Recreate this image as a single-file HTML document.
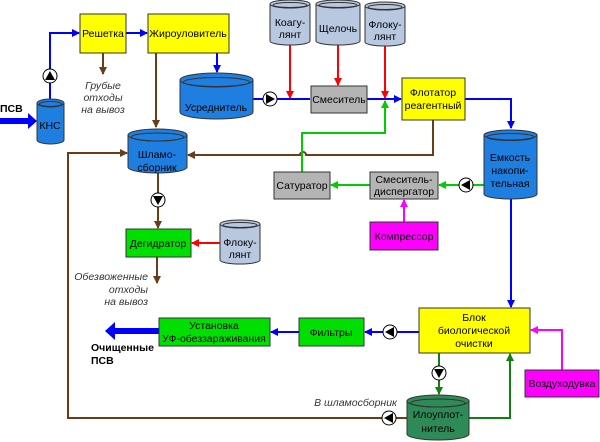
<!DOCTYPE html>
<html><head><meta charset="utf-8"><style>
html,body{margin:0;padding:0;background:#fff}
svg{display:block}
text{font-family:"Liberation Sans",Arial,sans-serif;font-size:10.5px;fill:#000}
.it{font-style:italic;fill:#333}
</style></head><body>
<svg width="600" height="442" viewBox="0 0 600 442" xmlns="http://www.w3.org/2000/svg">
<defs>
<marker id="ab" markerWidth="8" markerHeight="8" refX="7" refY="4" orient="auto" markerUnits="userSpaceOnUse"><path d="M0,0L8,4L0,8z" fill="#0000ff"/></marker>
<marker id="ar" markerWidth="8" markerHeight="8" refX="7" refY="4" orient="auto" markerUnits="userSpaceOnUse"><path d="M0,0L8,4L0,8z" fill="#ff0000"/></marker>
<marker id="ag" markerWidth="8" markerHeight="8" refX="7" refY="4" orient="auto" markerUnits="userSpaceOnUse"><path d="M0,0L8,4L0,8z" fill="#00cc00"/></marker>
<marker id="adg" markerWidth="8" markerHeight="8" refX="7" refY="4" orient="auto" markerUnits="userSpaceOnUse"><path d="M0,0L8,4L0,8z" fill="#108010"/></marker>
<marker id="an" markerWidth="8" markerHeight="8" refX="7" refY="4" orient="auto" markerUnits="userSpaceOnUse"><path d="M0,0L8,4L0,8z" fill="#6b3d17"/></marker>
<marker id="ap" markerWidth="8" markerHeight="8" refX="7" refY="4" orient="auto" markerUnits="userSpaceOnUse"><path d="M0,0L8,4L0,8z" fill="#ff00ff"/></marker>
</defs>
<g fill="none" stroke-width="2">
<!-- blue -->
<path d="M50,99V33H79" stroke="#0000ff" marker-end="url(#ab)"/>
<path d="M126,33H147" stroke="#0000ff" marker-end="url(#ab)"/>
<path d="M217,53V72" stroke="#0000ff" marker-end="url(#ab)"/>
<path d="M253,99H310" stroke="#0000ff"/>
<path d="M367,99H401" stroke="#0000ff" marker-end="url(#ab)"/>
<path d="M465,99H511V128" stroke="#0000ff" marker-end="url(#ab)"/>
<path d="M511,199V307" stroke="#0000ff" marker-end="url(#ab)"/>
<path d="M419,332H365" stroke="#0000ff" marker-end="url(#ab)"/>
<path d="M299,332H271" stroke="#0000ff" marker-end="url(#ab)"/>
<!-- red -->
<path d="M290,45V98" stroke="#ff0000" marker-end="url(#ar)"/>
<path d="M338,45V85" stroke="#ff0000" marker-end="url(#ar)"/>
<path d="M385,46V98" stroke="#ff0000" marker-end="url(#ar)"/>
<path d="M220,243H192" stroke="#ff0000" marker-end="url(#ar)"/>
<!-- brown -->
<path d="M103,53V74" stroke="#6b3d17" marker-end="url(#an)"/>
<path d="M156,53V127" stroke="#6b3d17" marker-end="url(#an)"/>
<path d="M433,120V155H306A3,3 0 0 0 300,155H188" stroke="#6b3d17" marker-end="url(#an)"/>
<path d="M158,173V228" stroke="#6b3d17" marker-end="url(#an)"/>
<path d="M157,257V283" stroke="#6b3d17" marker-end="url(#an)"/>
<path d="M407,418H68V153H127" stroke="#6b3d17" marker-end="url(#an)"/>
<!-- green -->
<path d="M302,172V133H385V101" stroke="#00cc00" marker-end="url(#ag)"/>
<path d="M484,185H439" stroke="#00cc00" marker-end="url(#ag)"/>
<path d="M370,185H331" stroke="#00cc00" marker-end="url(#ag)"/>
<path d="M439,353V394" stroke="#108010" marker-end="url(#adg)"/>
<path d="M469,418H510V354" stroke="#108010" marker-end="url(#adg)"/>
<!-- pink -->
<path d="M404,222V200" stroke="#ff00ff" marker-end="url(#ap)"/>
<path d="M562,370V330H531" stroke="#ff00ff" marker-end="url(#ap)"/>
</g>
<!-- thick arrows -->
<path d="M0,118H28V113L37,121L28,129V124H0z" fill="#0000ff"/>
<path d="M159,328H115V322L105,331L115,340V334H159z" fill="#0000ff"/>
<!-- pumps -->
<g stroke="#000" stroke-width="1" fill="#fff">
<circle cx="50" cy="76" r="7"/><circle cx="270" cy="99" r="7"/><circle cx="158" cy="200" r="7"/>
<circle cx="466" cy="185" r="7"/><circle cx="390" cy="332" r="7"/><circle cx="439" cy="373" r="7"/><circle cx="389" cy="418" r="7"/>
</g>
<g fill="#000">
<path d="M45,80L50,71L55,80z"/><path d="M266,94L275,99L266,104z"/><path d="M153,196L163,196L158,205z"/>
<path d="M470,180L461,185L470,190z"/><path d="M394,327L385,332L394,337z"/><path d="M434,369L444,369L439,378z"/><path d="M393,413L384,418L393,423z"/>
</g>
<!-- boxes -->
<g stroke="#333" stroke-width="1">
<rect x="80" y="14" width="46" height="39" fill="#ffff00"/>
<rect x="148" y="14" width="81" height="39" fill="#ffff00"/>
<rect x="311" y="86" width="56" height="27" fill="#b4b4b4"/>
<rect x="402" y="78" width="63" height="42" fill="#ffff00"/>
<rect x="274" y="172" width="56" height="27" fill="#b4b4b4"/>
<rect x="370" y="172" width="68" height="27" fill="#b4b4b4"/>
<rect x="370" y="222" width="68" height="28" fill="#ff00ff"/>
<rect x="126" y="229" width="65" height="28" fill="#00e000"/>
<rect x="159" y="318" width="111" height="28" fill="#00e000"/>
<rect x="299" y="318" width="65" height="28" fill="#00e000"/>
<rect x="419" y="308" width="111" height="45" fill="#ffff00"/>
<rect x="525" y="370" width="74" height="27" fill="#ff00ff"/>
</g>
<!-- cylinders -->
<g stroke="#333" stroke-width="1">
<path d="M37,103V140A13.5,4 0 0 0 64,140V103" fill="#1e7fe0"/><ellipse cx="50.5" cy="103" rx="13.5" ry="4" fill="#1e7fe0"/><ellipse cx="50.5" cy="104" rx="11" ry="2.5" fill="none"/>
<path d="M180,80V112A36.5,7 0 0 0 253,112V80" fill="#1e7fe0"/><ellipse cx="216.5" cy="80" rx="36.5" ry="7" fill="#1e7fe0"/><ellipse cx="216.5" cy="82" rx="33" ry="4.5" fill="none"/>
<path d="M128,135V167A29.5,6 0 0 0 187,167V135" fill="#1e7fe0"/><ellipse cx="157.5" cy="135" rx="29.5" ry="6" fill="#1e7fe0"/><ellipse cx="157.5" cy="137" rx="26" ry="4" fill="none"/>
<path d="M484,135V194A26.5,5 0 0 0 537,194V135" fill="#1e7fe0"/><ellipse cx="510.5" cy="135" rx="26.5" ry="5" fill="#1e7fe0"/><ellipse cx="510.5" cy="137" rx="23.5" ry="3.5" fill="none"/>
<path d="M270,4V41A20,4 0 0 0 310,41V4" fill="#b8c8e0"/><ellipse cx="290" cy="4" rx="20" ry="4" fill="#b8c8e0"/><ellipse cx="290" cy="5" rx="17" ry="2.5" fill="none"/>
<path d="M316,4V41A22,4 0 0 0 360,41V4" fill="#b8c8e0"/><ellipse cx="338" cy="4" rx="22" ry="4" fill="#b8c8e0"/><ellipse cx="338" cy="5" rx="19" ry="2.5" fill="none"/>
<path d="M365,6V42A20,4 0 0 0 405,42V6" fill="#b8c8e0"/><ellipse cx="385" cy="6" rx="20" ry="4" fill="#b8c8e0"/><ellipse cx="385" cy="7" rx="17" ry="2.5" fill="none"/>
<path d="M220,224V260A20,4 0 0 0 260,260V224" fill="#b8c8e0"/><ellipse cx="240" cy="224" rx="20" ry="4" fill="#b8c8e0"/><ellipse cx="240" cy="225" rx="17" ry="2.5" fill="none"/>
<path d="M407,401V434A31,6 0 0 0 469,434V401" fill="#2e8b57"/><ellipse cx="438" cy="401" rx="31" ry="6" fill="#2e8b57"/><ellipse cx="438" cy="403" rx="27" ry="4" fill="none"/>
</g>
<!-- labels -->
<g text-anchor="middle">
<text x="103" y="37">Решетка</text>
<text x="188" y="37">Жироуловитель</text>
<text x="50" y="129">КНС</text>
<text x="216" y="111">Усреднитель</text>
<text x="157" y="158">Шламо-</text><text x="157" y="171">сборник</text>
<text x="290" y="26">Коагу-</text><text x="290" y="38">лянт</text>
<text x="338" y="32">Щелочь</text>
<text x="385" y="28">Флоку-</text><text x="385" y="40">лянт</text>
<text x="339" y="103">Смеситель</text>
<text x="433" y="96">Флотатор</text><text x="433" y="109">реагентный</text>
<text x="510" y="161">Емкость</text><text x="510" y="174">накопи-</text><text x="510" y="187">тельная</text>
<text x="302" y="189">Сатуратор</text>
<text x="404" y="183">Смеситель-</text><text x="404" y="195">диспергатор</text>
<text x="404" y="240">Компрессор</text>
<text x="158" y="247">Дегидратор</text>
<text x="240" y="246">Флоку-</text><text x="240" y="258">лянт</text>
<text x="214" y="329">Установка</text><text x="214" y="342">УФ-обеззараживания</text>
<text x="331" y="336">Фильтры</text>
<text x="474" y="321">Блок</text><text x="474" y="334">биологической</text><text x="474" y="347">очистки</text>
<text x="562" y="387">Воздуходувка</text>
<text x="438" y="418">Илоуплот-</text><text x="438" y="432">нитель</text>
<text class="it" x="103" y="89">Грубые</text><text class="it" x="103" y="101">отходы</text><text class="it" x="103" y="113">на вывоз</text>
</g>
<g text-anchor="end" class="it">
<text class="it" x="148" y="280">Обезвоженные</text><text class="it" x="148" y="293">отходы</text><text class="it" x="148" y="305">на вывоз</text>
<text class="it" x="397" y="406">В шламосборник</text>
</g>
<text x="0" y="112" font-weight="bold">ПСВ</text>
<text x="91" y="351" font-weight="bold">Очищенные</text>
<text x="91" y="364" font-weight="bold">ПСВ</text>
</svg>
</body></html>
